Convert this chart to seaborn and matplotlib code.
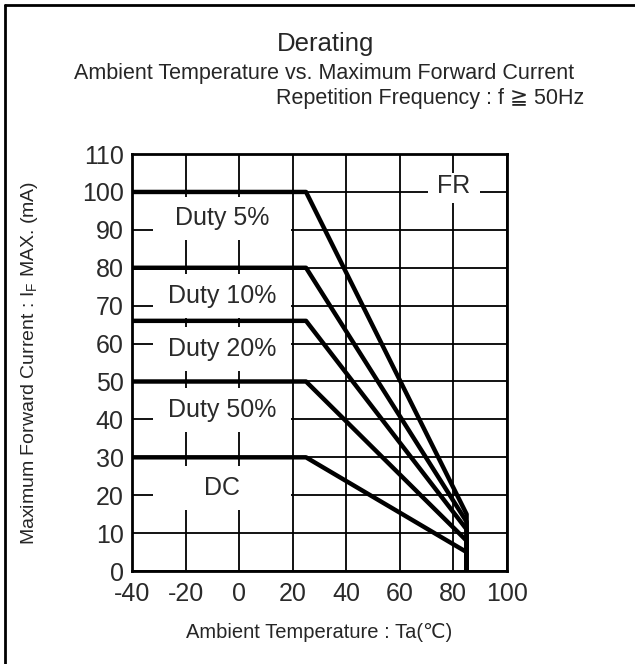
import pandas as pd
import matplotlib
matplotlib.use("Agg")
import matplotlib.pyplot as plt
from matplotlib.patches import Rectangle
from matplotlib.lines import Line2D
import seaborn as sns

# derating curves: flat up to 25C, then down to 85C, then drop to zero
temps = [-40, 25, 85, 85]
duty5 = [100, 100, 15, 0]
duty10 = [80, 80, 13, 0]
duty20 = [66, 66, 11, 0]
duty50 = [50, 50, 8, 0]
dc = [30, 30, 5, 0]

curve_names = ["Duty 5%", "Duty 10%", "Duty 20%", "Duty 50%", "DC"]
label_levels = [93, 72.5, 58.5, 42.5, 22]

x_ticks = [-40, -20, 0, 20, 40, 60, 80, 100]
y_ticks = [0, 10, 20, 30, 40, 50, 60, 70, 80, 90, 100, 110]

rows = []
for name, vals in zip(curve_names, [duty5, duty10, duty20, duty50, dc]):
    for t, v in zip(temps, vals):
        rows.append({"temp": t, "current": v, "curve": name})
df = pd.DataFrame(rows)

sns.set_style("white")
plt.rcParams["font.family"] = ["Liberation Sans", "DejaVu Sans"]
plt.rcParams["axes.unicode_minus"] = False

fig = plt.figure(figsize=(6.35, 6.64), dpi=100)
ax = fig.add_axes([0.208, 0.140, 0.590, 0.628])

sns.lineplot(data=df, x="temp", y="current", units="curve", estimator=None,
             sort=False, color="black", linewidth=3.2, ax=ax, zorder=3)

ax.set_xlim(-40, 100)
ax.set_ylim(0, 110)
ax.set_xticks(x_ticks)
ax.set_yticks(y_ticks)
ax.grid(True, color="black", linewidth=1.3, zorder=1)
ax.set_axisbelow(True)
for s in ax.spines.values():
    s.set_color("black")
    s.set_linewidth(2)
ax.tick_params(length=0, labelcolor="#2a2a2a", labelsize=18)
ax.tick_params(axis="x", pad=8)
ax.tick_params(axis="y", pad=6)

# white boxes with the curve names
for name, lvl in zip(curve_names, label_levels):
    ax.add_patch(Rectangle((-32, lvl - 5.8), 51.5, 11.6, facecolor="white",
                           edgecolor="none", zorder=2))
    ax.text(-6.5, lvl, name, ha="center", va="center", fontsize=18,
            color="#2a2a2a", zorder=4)
ax.add_patch(Rectangle((70.5, 97), 19.5, 8, facecolor="white", edgecolor="none", zorder=2))
ax.text(80, 101.5, "FR", ha="center", va="center", fontsize=18,
        color="#2a2a2a", zorder=4)

ax.set_xlabel("Ambient Temperature : Ta(℃)", fontsize=14.5, labelpad=12)
ax.set_ylabel(r"Maximum Forward Current : I$_\mathregular{F}$ MAX. (mA)",
              fontsize=14, labelpad=30)

fig.text(0.512, 0.934, "Derating", ha="center", va="center", fontsize=18.5)
fig.text(0.51, 0.889, "Ambient Temperature vs. Maximum Forward Current",
         ha="center", va="center", fontsize=15.5)
fig.text(0.92, 0.852, "Repetition Frequency : f ≧ 50Hz", ha="right",
         va="center", fontsize=15.5)

# outer frame (left and top edges)
fig.add_artist(Line2D([0.008, 0.008], [0.0, 0.992], color="black", linewidth=2,
                      transform=fig.transFigure))
fig.add_artist(Line2D([0.008, 1.0], [0.992, 0.992], color="black", linewidth=2,
                      transform=fig.transFigure))

plt.savefig("out.png", dpi=100)
